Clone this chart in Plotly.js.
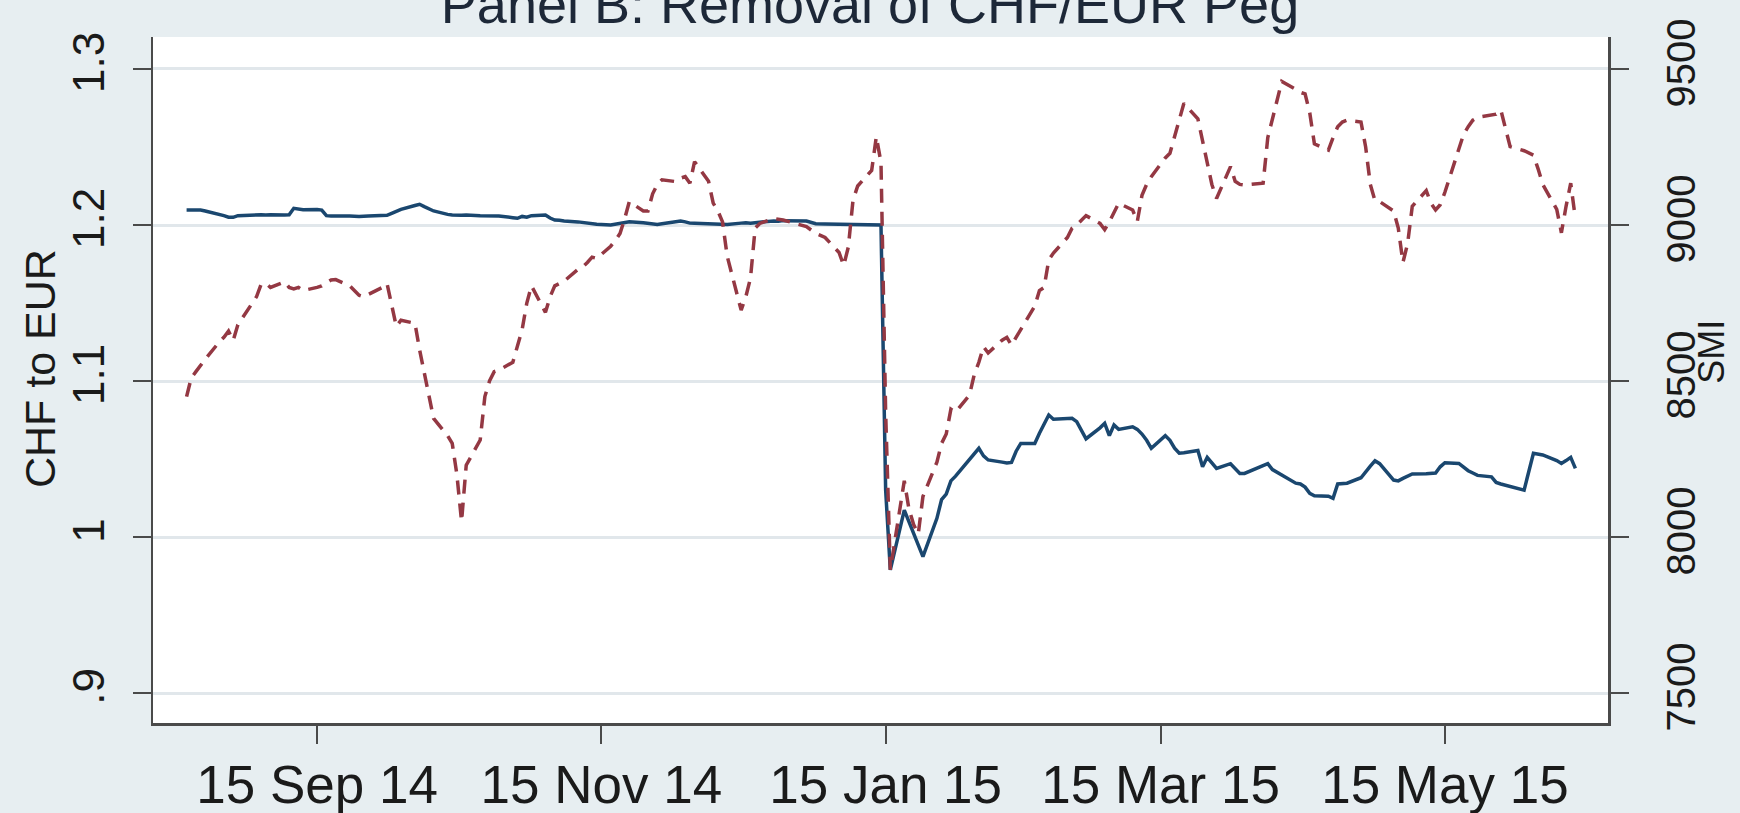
<!DOCTYPE html>
<html>
<head>
<meta charset="utf-8">
<script src="https://cdn.plot.ly/plotly-3.0.1.min.js"></script>
<style>
  html, body { margin: 0; padding: 0; background: #e7eef1; }
  #chart { width: 1740px; height: 813px; }
</style>
</head>
<body>
<div id="chart"></div>
<script>
// EUR exchange rate of the franc (left axis), daily
const chfDates = [
  '2014-08-18','2014-08-19','2014-08-20','2014-08-21','2014-08-22','2014-08-25','2014-08-26','2014-08-27','2014-08-28','2014-08-29',
  '2014-09-01','2014-09-02','2014-09-03','2014-09-04','2014-09-05','2014-09-08','2014-09-09','2014-09-10','2014-09-11','2014-09-12','2014-09-15','2014-09-16','2014-09-17','2014-09-18','2014-09-22','2014-09-24','2014-09-26','2014-09-29','2014-09-30',
  '2014-10-01','2014-10-02','2014-10-03','2014-10-06','2014-10-07','2014-10-08','2014-10-09','2014-10-10','2014-10-13','2014-10-14','2014-10-16','2014-10-17','2014-10-20','2014-10-22','2014-10-24','2014-10-27','2014-10-28','2014-10-29','2014-10-30','2014-10-31',
  '2014-11-03','2014-11-04','2014-11-05','2014-11-06','2014-11-07','2014-11-10','2014-11-11','2014-11-12','2014-11-13','2014-11-14','2014-11-17','2014-11-18','2014-11-19','2014-11-20','2014-11-21','2014-11-24','2014-11-25','2014-11-26','2014-11-27','2014-11-28',
  '2014-12-01','2014-12-02','2014-12-03','2014-12-04','2014-12-05','2014-12-08','2014-12-09','2014-12-10','2014-12-11','2014-12-12','2014-12-15','2014-12-16','2014-12-17','2014-12-18','2014-12-19','2014-12-22','2014-12-23','2014-12-24','2014-12-29','2014-12-30','2014-12-31',
  '2015-01-02','2015-01-05','2015-01-06','2015-01-07','2015-01-08','2015-01-09','2015-01-12','2015-01-13','2015-01-14','2015-01-15','2015-01-16','2015-01-19','2015-01-23','2015-01-26','2015-01-27','2015-01-28','2015-01-29','2015-01-30',
  '2015-02-02','2015-02-03','2015-02-04','2015-02-05','2015-02-06','2015-02-09','2015-02-10','2015-02-11','2015-02-12','2015-02-13','2015-02-16','2015-02-17','2015-02-18','2015-02-19','2015-02-20','2015-02-23','2015-02-24','2015-02-25','2015-02-26','2015-02-27',
  '2015-03-02','2015-03-03','2015-03-04','2015-03-05','2015-03-06','2015-03-09','2015-03-10','2015-03-11','2015-03-12','2015-03-13','2015-03-16','2015-03-17','2015-03-18','2015-03-19','2015-03-20','2015-03-23','2015-03-24','2015-03-25','2015-03-26','2015-03-27','2015-03-30','2015-03-31',
  '2015-04-01','2015-04-02','2015-04-07','2015-04-08','2015-04-09','2015-04-10','2015-04-13','2015-04-14','2015-04-15','2015-04-16','2015-04-17','2015-04-20','2015-04-21','2015-04-22','2015-04-23','2015-04-24','2015-04-27','2015-04-28','2015-04-29','2015-04-30',
  '2015-05-01','2015-05-04','2015-05-05','2015-05-06','2015-05-07','2015-05-08','2015-05-11','2015-05-12','2015-05-13','2015-05-14','2015-05-15','2015-05-18','2015-05-19','2015-05-20','2015-05-21','2015-05-22','2015-05-25','2015-05-26','2015-05-27','2015-05-28','2015-05-29',
  '2015-06-01','2015-06-03','2015-06-04','2015-06-05','2015-06-08','2015-06-09','2015-06-10','2015-06-11','2015-06-12'
];
const chfEur = [
  1.2096,1.2096,1.2096,1.2096,1.2090,1.2070,1.2060,1.2050,1.2049,1.2060,
  1.2066,1.2064,1.2066,1.2064,1.2066,1.2064,1.2066,1.2107,1.2100,1.2098,1.2100,1.2096,1.2060,1.2058,1.2058,1.2055,1.2058,1.2058,1.2062,
  1.2075,1.2090,1.2100,1.2125,1.2133,1.2118,1.2105,1.2090,1.2068,1.2064,1.2062,1.2064,1.2060,1.2058,1.2058,1.2047,1.2043,1.2055,1.2050,1.2060,
  1.2064,1.2045,1.2032,1.2030,1.2025,1.2020,1.2015,1.2015,1.2010,1.2005,1.2000,1.2005,1.2012,1.2018,1.2021,1.2015,1.2010,1.2005,1.2004,1.2008,
  1.2022,1.2026,1.2020,1.2012,1.2011,1.2008,1.2005,1.2002,1.2000,1.2003,1.2012,1.2015,1.2012,1.2015,1.2020,1.2026,1.2024,1.2028,1.2025,1.2015,1.2008,
  1.2006,1.2004,1.2002,1.2000,1.2001,1.2001,1.2000,1.2000,1.2000,1.0300,0.9790,1.0173,0.9874,1.0120,1.0240,1.0275,1.0360,1.0390,
  1.0494,1.0530,1.0569,1.0520,1.0494,1.0480,1.0475,1.0478,1.0550,1.0600,1.0600,1.0665,1.0720,1.0782,1.0755,1.0760,1.0761,1.0740,1.0680,1.0630,
  1.0700,1.0729,1.0650,1.0718,1.0690,1.0707,1.0690,1.0660,1.0620,1.0569,1.0650,1.0620,1.0570,1.0537,1.0540,1.0555,1.0451,1.0511,1.0475,1.0440,1.0470,1.0440,
  1.0408,1.0408,1.0470,1.0432,1.0415,1.0398,1.0345,1.0340,1.0320,1.0280,1.0265,1.0262,1.0248,1.0340,1.0340,1.0345,1.0380,1.0420,1.0455,1.0489,
  1.0470,1.0365,1.0360,1.0376,1.0390,1.0404,1.0405,1.0408,1.0410,1.0450,1.0476,1.0472,1.0450,1.0425,1.0410,1.0395,1.0386,1.0350,1.0340,1.0332,1.0327,
  1.0301,1.0537,1.0530,1.0526,1.0490,1.0472,1.0490,1.0511,1.0440
];

// Swiss Market Index close (right axis), daily
const smiDates = [
  '2014-08-18','2014-08-19','2014-08-20','2014-08-21','2014-08-22','2014-08-25','2014-08-26','2014-08-27','2014-08-28','2014-08-29',
  '2014-09-01','2014-09-02','2014-09-03','2014-09-04','2014-09-05','2014-09-08','2014-09-09','2014-09-10','2014-09-11','2014-09-12','2014-09-15','2014-09-16','2014-09-17','2014-09-18','2014-09-19','2014-09-22','2014-09-23','2014-09-24','2014-09-25','2014-09-26','2014-09-29','2014-09-30',
  '2014-10-01','2014-10-02','2014-10-03','2014-10-06','2014-10-07','2014-10-08','2014-10-09','2014-10-10','2014-10-13','2014-10-14','2014-10-15','2014-10-16','2014-10-17','2014-10-20','2014-10-21','2014-10-22','2014-10-23','2014-10-24','2014-10-27','2014-10-28','2014-10-29','2014-10-30','2014-10-31',
  '2014-11-03','2014-11-04','2014-11-05','2014-11-06','2014-11-07','2014-11-10','2014-11-11','2014-11-12','2014-11-13','2014-11-14','2014-11-17','2014-11-18','2014-11-19','2014-11-20','2014-11-21','2014-11-24','2014-11-25','2014-11-26','2014-11-27','2014-11-28',
  '2014-12-01','2014-12-02','2014-12-03','2014-12-04','2014-12-05','2014-12-08','2014-12-09','2014-12-10','2014-12-11','2014-12-12','2014-12-15','2014-12-16','2014-12-17','2014-12-18','2014-12-19','2014-12-22','2014-12-23','2014-12-24','2014-12-29','2014-12-30','2014-12-31',
  '2015-01-02','2015-01-05','2015-01-06','2015-01-07','2015-01-08','2015-01-09','2015-01-12','2015-01-13','2015-01-14','2015-01-15','2015-01-16','2015-01-19','2015-01-20','2015-01-21','2015-01-22','2015-01-23','2015-01-26','2015-01-27','2015-01-28','2015-01-29','2015-01-30',
  '2015-02-02','2015-02-03','2015-02-04','2015-02-05','2015-02-06','2015-02-09','2015-02-10','2015-02-11','2015-02-12','2015-02-13','2015-02-16','2015-02-17','2015-02-18','2015-02-19','2015-02-20','2015-02-23','2015-02-24','2015-02-25','2015-02-26','2015-02-27',
  '2015-03-02','2015-03-03','2015-03-04','2015-03-05','2015-03-06','2015-03-09','2015-03-10','2015-03-11','2015-03-12','2015-03-13','2015-03-16','2015-03-17','2015-03-18','2015-03-19','2015-03-20','2015-03-23','2015-03-24','2015-03-25','2015-03-26','2015-03-27','2015-03-30','2015-03-31',
  '2015-04-01','2015-04-02','2015-04-06','2015-04-07','2015-04-08','2015-04-09','2015-04-10','2015-04-13','2015-04-14','2015-04-15','2015-04-16','2015-04-17','2015-04-20','2015-04-21','2015-04-22','2015-04-23','2015-04-24','2015-04-27','2015-04-28','2015-04-29','2015-04-30',
  '2015-05-01','2015-05-04','2015-05-05','2015-05-06','2015-05-07','2015-05-08','2015-05-11','2015-05-12','2015-05-13','2015-05-14','2015-05-15','2015-05-18','2015-05-19','2015-05-20','2015-05-21','2015-05-22','2015-05-26','2015-05-27','2015-05-28','2015-05-29',
  '2015-06-01','2015-06-02','2015-06-03','2015-06-04','2015-06-05','2015-06-08','2015-06-09','2015-06-10','2015-06-11','2015-06-12'
];
const smi = [
  8450,8510,8530,8551,8570,8625,8640,8660,8630,8680,
  8745,8770,8810,8813,8800,8818,8800,8795,8800,8790,8800,8805,8815,8824,8825,8805,8790,8775,8770,8778,8800,8813,
  8750,8675,8695,8685,8600,8530,8450,8380,8325,8300,8200,8050,8230,8311,8450,8500,8530,8535,8560,8610,8665,8750,8805,
  8720,8770,8805,8813,8820,8858,8866,8880,8897,8893,8932,8950,8973,9020,9075,9045,9045,9100,9130,9145,
  9139,9150,9155,9134,9203,9140,9070,9045,9010,8900,8727,8770,8830,8990,9005,9021,9018,9016,8995,8985,8973,
  8960,8912,8870,8930,9080,9125,9175,9283,9200,8400,7895,8180,8090,8040,8010,8130,8240,8300,8330,8410,8400,
  8455,8520,8560,8610,8590,8631,8640,8615,8640,8670,8740,8790,8800,8888,8910,8960,8990,9000,9016,9030,
  9005,8985,9010,9040,9070,9048,9011,9095,9130,9155,9215,9230,9285,9340,9390,9340,9270,9190,9130,9085,9187,9140,
  9130,9128,9134,9280,9340,9410,9460,9435,9425,9420,9360,9260,9240,9280,9315,9330,9336,9330,9250,9130,9078,
  9075,9045,8990,8880,8940,9060,9110,9070,9048,9065,9105,9240,9290,9315,9336,9345,9355,9369,9310,9251,
  9238,9232,9224,9180,9130,9050,8975,9060,9134,9020
];

// Axis ticks
const xTickVals = ['2014-09-15', '2014-11-15', '2015-01-15', '2015-03-15', '2015-05-15'];
const xTickText = ['15 Sep 14', '15 Nov 14', '15 Jan 15', '15 Mar 15', '15 May 15'];
const leftTickVals = [0.9, 1.0, 1.1, 1.2, 1.3];
const leftTickText = ['.9', '1', '1.1', '1.2', '1.3'];
const rightTickVals = [7500, 8000, 8500, 9000, 9500];
const rightTickText = ['7500', '8000', '8500', '9000', '9500'];

const axisInk = '#4a4a4a';
const textInk = '#1a1a1a';
const font = 'Liberation Sans, Arial, Helvetica, sans-serif';

const traces = [
  {
    x: chfDates, y: chfEur, type: 'scatter', mode: 'lines', yaxis: 'y',
    line: { color: '#1a476f', width: 3.5 }, name: 'CHF to EUR'
  },
  {
    x: smiDates, y: smi, type: 'scatter', mode: 'lines', yaxis: 'y2',
    line: { color: '#943843', width: 3.5, dash: '14px,9px' }, name: 'SMI'
  }
];

const commonAxis = {
  ticks: 'outside', ticklen: 18, tickwidth: 2, tickcolor: axisInk,
  showline: true, linecolor: axisInk, linewidth: 2.5,
  zeroline: false, automargin: false,
  tickfont: { family: font, size: 44, color: textInk }
};

const layout = {
  width: 1740, height: 813,
  paper_bgcolor: '#e7eef1',
  plot_bgcolor: '#ffffff',
  margin: { l: 153, r: 132, t: 37, b: 90, pad: 0 },
  showlegend: false,
  hovermode: false,
  font: { family: font, color: textInk },
  title: {
    text: 'Panel B: Removal of CHF/EUR Peg',
    font: { family: font, size: 54, color: '#1d2838' },
    xref: 'container', x: 0.5, xanchor: 'center',
    yref: 'container', y: 0.995, yanchor: 'middle'
  },
  xaxis: Object.assign({}, commonAxis, {
    type: 'date',
    range: ['2014-08-10 19:00', '2015-06-19 00:00'],
    tickmode: 'array', tickvals: xTickVals, ticktext: xTickText,
    tickangle: 0, showgrid: false, ticklabelstandoff: -4,
    tickfont: { family: font, size: 53, color: textInk }
  }),
  yaxis: Object.assign({}, commonAxis, {
    range: [0.8808, 1.3205],
    tickmode: 'array', tickvals: leftTickVals, ticktext: leftTickText,
    tickangle: -90, ticklabelstandoff: 11,
    showgrid: true, gridcolor: '#e1e7eb', gridwidth: 3
  }),
  yaxis2: Object.assign({}, commonAxis, {
    overlaying: 'y', side: 'right',
    range: [7404, 9602.5],
    tickmode: 'array', tickvals: rightTickVals, ticktext: rightTickText,
    tickangle: -90, ticklabelstandoff: 18,
    showgrid: false,
    tickfont: { family: font, size: 40, color: textInk }
  }),
  // axis titles, set beside the tick labels of each axis
  annotations: [
    {
      text: 'CHF to EUR', textangle: -90, showarrow: false,
      xref: 'paper', x: 0, xanchor: 'center', xshift: -113,
      yref: 'paper', y: 0.516, yanchor: 'middle',
      font: { family: font, size: 43, color: textInk }
    },
    {
      text: 'SMI', textangle: -90, showarrow: false,
      xref: 'paper', x: 1, xanchor: 'center', xshift: 104,
      yref: 'paper', y: 0.541, yanchor: 'middle',
      font: { family: font, size: 36, color: textInk }
    }
  ]
};

Plotly.newPlot('chart', traces, layout, { staticPlot: true, displayModeBar: false });
</script>
</body>
</html>
